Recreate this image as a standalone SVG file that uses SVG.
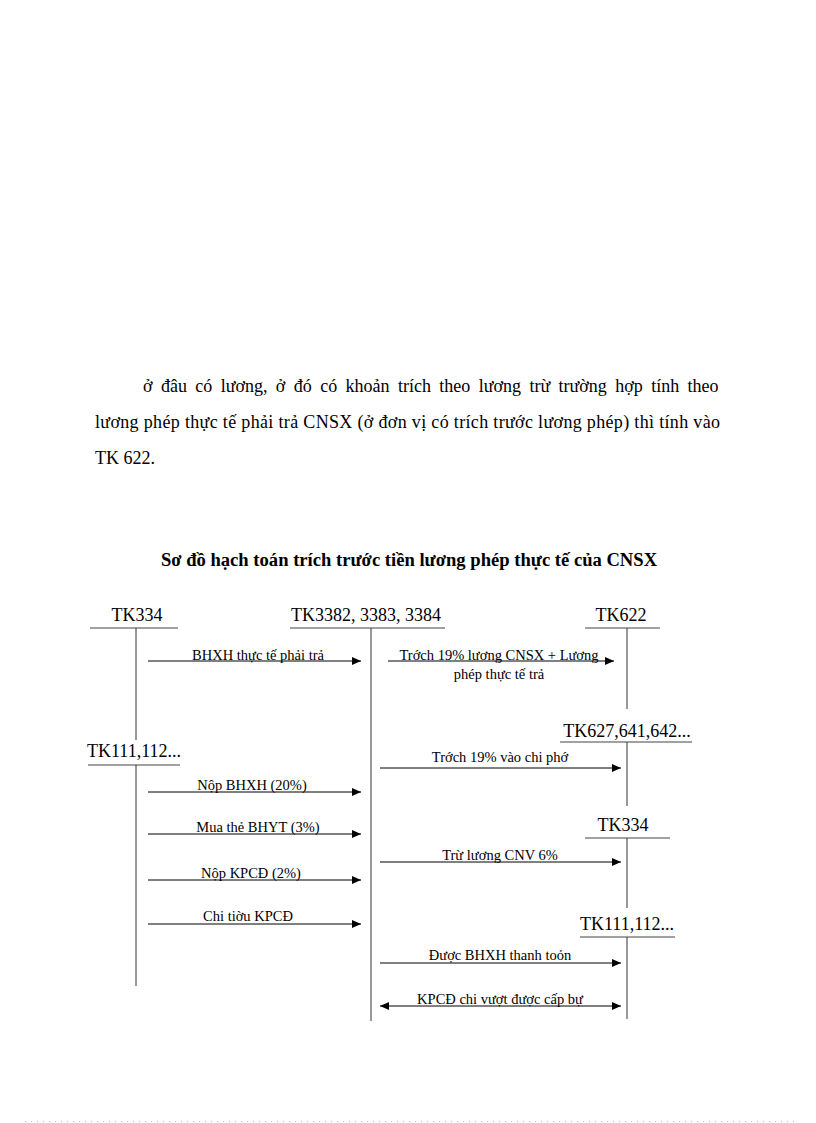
<svg xmlns="http://www.w3.org/2000/svg" width="816" height="1123" viewBox="0 0 816 1123">
<style>
.p{font-family:"Liberation Serif","Times New Roman",serif;font-size:18px;fill:#000}
.t{font-family:"Liberation Serif","Times New Roman",serif;font-size:18.6px;font-weight:bold;fill:#000}
.h{font-family:"Liberation Serif","Times New Roman",serif;font-size:18px;fill:#000}
.l{font-family:"Liberation Serif","Times New Roman",serif;font-size:14.5px;fill:#000}
.u{stroke:#444;stroke-width:1.2}
.v{stroke:#333;stroke-width:1}
.a{stroke:#000;stroke-width:1;fill:none;marker-end:url(#ah)}
.b{stroke:#000;stroke-width:1;fill:none;marker-end:url(#ah);marker-start:url(#as)}
</style>
<defs>
<marker id="ah" markerUnits="userSpaceOnUse" markerWidth="10" markerHeight="8" refX="9" refY="4" orient="auto"><path d="M0,0 L9,4 L0,8 Z" fill="#000"/></marker>
<marker id="as" markerUnits="userSpaceOnUse" markerWidth="10" markerHeight="8" refX="0" refY="4" orient="auto"><path d="M9,0 L0,4 L9,8 Z" fill="#000"/></marker>
</defs>
<rect width="816" height="1123" fill="#fff"/>
<g id="paragraph">
<text class="p" x="143" y="392" word-spacing="3.9">ở đâu có lương, ở đó có khoản trích theo lương trừ trường hợp tính theo</text>
<text class="p" x="95" y="428" textLength="625" lengthAdjust="spacing">lương phép thực tế phải trả CNSX (ở đơn vị có trích trước lương phép) thì tính vào</text>
<text class="p" x="95" y="464">TK 622.</text>
</g>
<text id="title" class="t" x="409" y="566" text-anchor="middle">Sơ đồ hạch toán trích trước tiền lương phép thực tế của CNSX</text>
<g id="tk334-left">
<text class="h" x="137" y="621" text-anchor="middle">TK334</text>
<line class="u" x1="90" y1="628" x2="178" y2="628"/>
<line class="v" x1="136" y1="628" x2="136" y2="740"/>
</g>
<g id="tk111-left">
<text class="h" x="134" y="757" text-anchor="middle">TK111,112...</text>
<line class="u" x1="88" y1="765" x2="180" y2="765"/>
<line class="v" x1="136" y1="765" x2="136" y2="986"/>
</g>
<g id="tk338">
<text class="h" x="366" y="621" text-anchor="middle">TK3382, 3383, 3384</text>
<line class="u" x1="290" y1="628" x2="445" y2="628"/>
<line class="v" x1="371" y1="628" x2="371" y2="1021"/>
</g>
<g id="tk622">
<text class="h" x="621" y="621" text-anchor="middle">TK622</text>
<line class="u" x1="585" y1="628" x2="660" y2="628"/>
<line class="v" x1="627" y1="628" x2="627" y2="709"/>
</g>
<g id="tk627">
<text class="h" x="627" y="737" text-anchor="middle">TK627,641,642...</text>
<line class="u" x1="560" y1="742" x2="692" y2="742"/>
<line class="v" x1="627" y1="742" x2="627" y2="806"/>
</g>
<g id="tk334-right">
<text class="h" x="623" y="831" text-anchor="middle">TK334</text>
<line class="u" x1="585" y1="838" x2="670" y2="838"/>
<line class="v" x1="627" y1="838" x2="627" y2="908"/>
</g>
<g id="tk111-right">
<text class="h" x="627" y="930" text-anchor="middle">TK111,112...</text>
<line class="u" x1="580" y1="937" x2="675" y2="937"/>
<line class="v" x1="627" y1="937" x2="627" y2="1019"/>
</g>
<g id="connectors">
<line class="a" x1="148" y1="661" x2="361" y2="661"/>
<text class="l" x="258" y="660" text-anchor="middle">BHXH thực tế phải trả</text>
<line class="a" x1="388" y1="661" x2="614" y2="661"/>
<text class="l" x="499" y="660" text-anchor="middle">Trớch 19% lương CNSX + Lương</text>
<text class="l" x="499" y="679" text-anchor="middle">phép thực tế trả</text>
<line class="a" x1="380" y1="768" x2="621" y2="768"/>
<text class="l" x="500" y="762" text-anchor="middle">Trớch 19% vào chi phớ</text>
<line class="a" x1="148" y1="792" x2="361" y2="792"/>
<text class="l" x="252" y="790" text-anchor="middle">Nộp BHXH (20%)</text>
<line class="a" x1="148" y1="834" x2="361" y2="834"/>
<text class="l" x="258" y="832" text-anchor="middle">Mua thẻ BHYT (3%)</text>
<line class="a" x1="380" y1="862" x2="621" y2="862"/>
<text class="l" x="500" y="860" text-anchor="middle">Trừ lương CNV 6%</text>
<line class="a" x1="148" y1="880" x2="361" y2="880"/>
<text class="l" x="251" y="878" text-anchor="middle">Nộp KPCĐ (2%)</text>
<line class="a" x1="148" y1="924" x2="361" y2="924"/>
<text class="l" x="248" y="921" text-anchor="middle">Chi tiờu KPCĐ</text>
<line class="a" x1="380" y1="963" x2="621" y2="963"/>
<text class="l" x="500" y="960" text-anchor="middle">Được BHXH thanh toỏn</text>
<line class="b" x1="380" y1="1006" x2="621" y2="1006"/>
<text class="l" x="500" y="1004" text-anchor="middle">KPCĐ chi vượt được cấp bự</text>
</g>
<line x1="25" y1="1121.5" x2="795" y2="1121.5" stroke="#bbb" stroke-width="1" stroke-dasharray="1,5"/>
</svg>
